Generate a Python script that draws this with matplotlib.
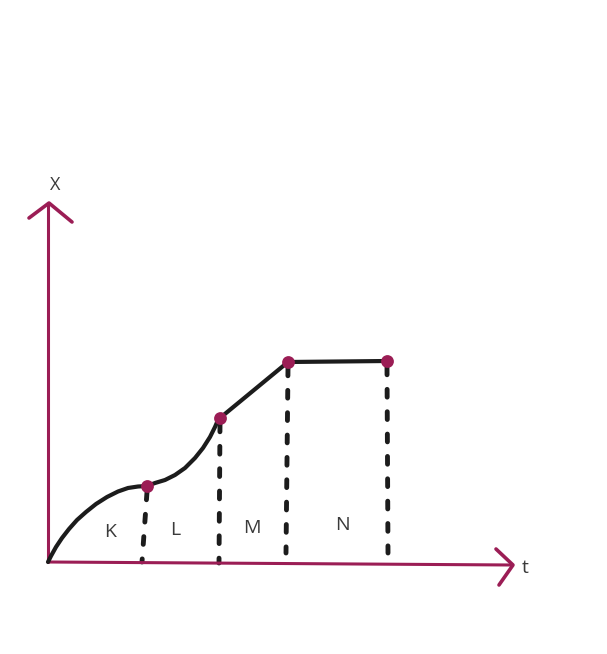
import matplotlib.pyplot as plt

# time (t) / position (x), origin at the axes corner
key_t = [9.9, 17.2, 24.0, 33.9]
key_x = [7.6, 14.4, 20.0, 20.1]

# segment K: decelerating curve from the origin
k_t = [0.0, 0.3, 0.8, 1.4, 2.1, 2.9, 3.8, 4.8, 5.9, 7.0, 8.0, 9.0, 9.9]
k_x = [0.0, 0.6, 1.5, 2.4, 3.3, 4.2, 5.0, 5.8, 6.5, 7.05, 7.4, 7.55, 7.6]
# segment L: accelerating curve
l_t = [9.9, 10.7, 11.7, 12.7, 13.7, 14.7, 15.5, 16.2, 16.7, 17.0, 17.2]
l_x = [7.6, 7.9, 8.2, 8.7, 9.4, 10.4, 11.4, 12.5, 13.5, 14.2, 14.4]
# segments M (straight) and N (flat)
mn_t = [17.2, 24.0, 33.9]
mn_x = [14.4, 20.0, 20.1]

# dashed drop lines: top and bottom of each
drop_top_t = [9.9, 17.2, 24.0, 33.9]
drop_bot_t = [9.4, 17.1, 23.8, 34.0]
drop_top_x = [7.0, 13.8, 19.4, 19.5]
drop_bot_x = [0.0, -0.1, 0.9, 0.9]

seg_labels = ['K', 'L', 'M', 'N']
seg_label_t = [6.2, 12.7, 20.4, 29.4]
seg_label_x = [3.0, 3.2, 3.4, 3.7]

# axis arrows
y_axis_t = [0.0, 0.0]
y_axis_x = [0.0, 35.7]
y_head_t = [-1.9, 0.1, 2.4]
y_head_x = [34.4, 35.9, 34.0]
x_axis_t = [0.0, 46.4]
x_axis_x = [0.0, -0.3]
x_head_t = [44.8, 46.5, 45.1]
x_head_x = [1.3, -0.3, -2.3]

axis_col = '#9b1d55'
ink = '#1c1c1c'
txt = '#3a3a3a'

fig = plt.figure(figsize=(6.07, 6.54), dpi=100)
ax = fig.add_axes([0, 0, 1, 1])
ax.set_xlim(-4.8, 55.9)
ax.set_ylim(-9.2, 56.2)
ax.axis('off')

# axes
ax.plot(y_axis_t, y_axis_x, color=axis_col, lw=2.2, solid_capstyle='round', zorder=2)
ax.plot(y_head_t, y_head_x, color=axis_col, lw=2.6, solid_capstyle='round',
        solid_joinstyle='round', zorder=2)
ax.plot(x_axis_t, x_axis_x, color=axis_col, lw=2.2, solid_capstyle='round', zorder=2)
ax.plot(x_head_t, x_head_x, color=axis_col, lw=2.6, solid_capstyle='round',
        solid_joinstyle='round', zorder=2)

# dashed drops
for t0, t1, x0, x1 in zip(drop_top_t, drop_bot_t, drop_top_x, drop_bot_x):
    ax.plot([t0, t1], [x0, x1], color=ink, lw=3.5, linestyle=(0, (1.6, 3.0)),
            dash_capstyle='round', zorder=1)

# motion curve
for tt, xx in [(k_t, k_x), (l_t, l_x), (mn_t, mn_x)]:
    ax.plot(tt, xx, color=ink, lw=3.0, solid_capstyle='round',
            solid_joinstyle='round', zorder=3)

ax.scatter(key_t, key_x, s=85, color=axis_col, zorder=4, linewidths=0)

for lab, t, x in zip(seg_labels, seg_label_t, seg_label_x):
    ax.text(t, x, lab, ha='center', va='center', fontsize=14, color=txt,
            family='Open Sans')

ax.text(0.7, 37.7, 'X', ha='center', va='center', fontsize=13, color=txt,
        family='Open Sans')
ax.text(47.7, -0.6, 't', ha='center', va='center', fontsize=14, color=txt,
        family='Open Sans')

fig.savefig('out.png', dpi=100, facecolor='white')
